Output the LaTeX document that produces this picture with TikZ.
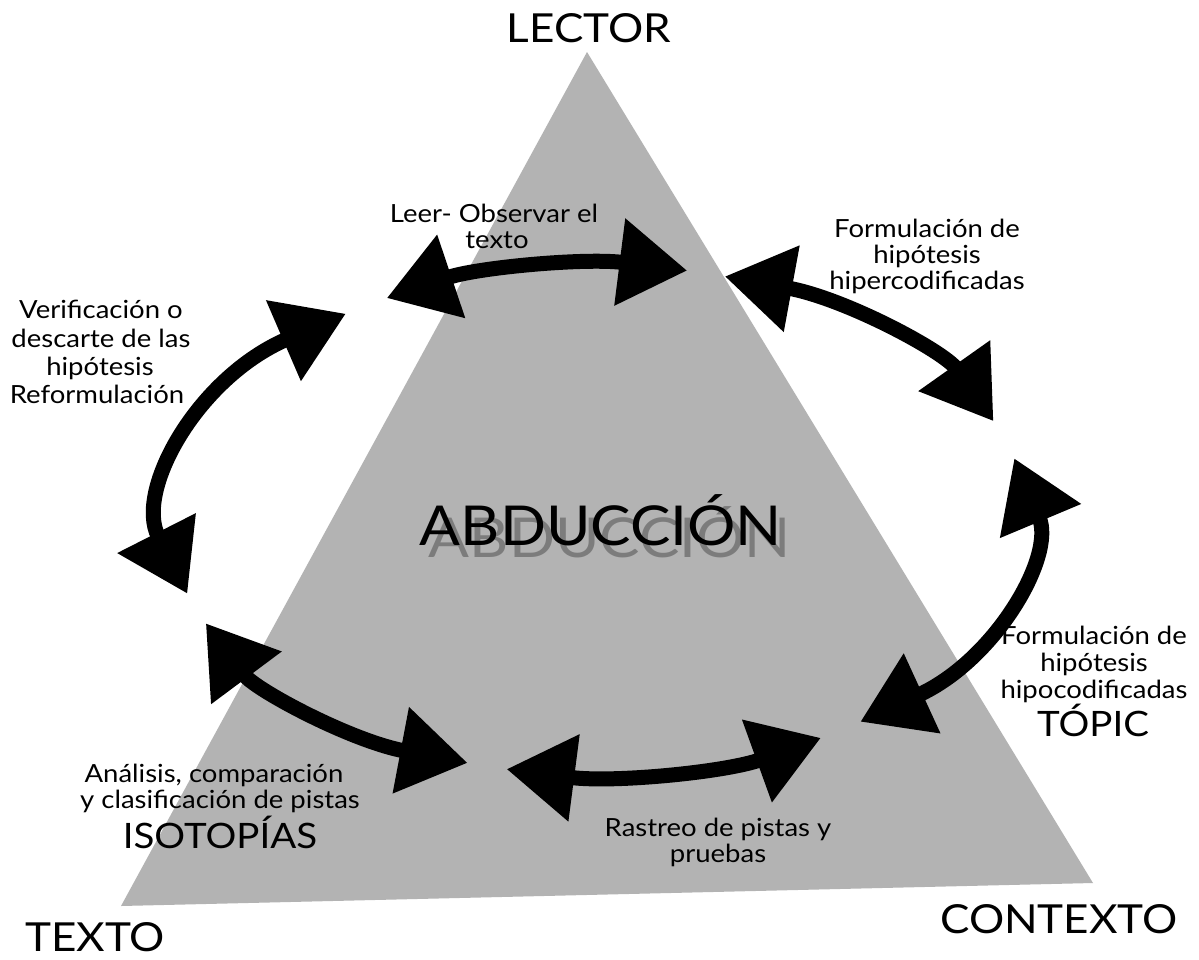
\documentclass[tikz,border=0pt]{standalone}
\usepackage{fontspec}
\setmainfont{Lato}[FakeStretch=1.1]
\usetikzlibrary{arrows.meta,calc}
\definecolor{trigray}{RGB}{179,179,179}
\tikzset{
  bigarrow/.style={line width=15pt, {Triangle[length=68pt,width=84pt]}-{Triangle[length=68pt,width=84pt]}},
  lbl/.style={anchor=base, inner sep=0pt, font=\fontsize{25}{28}\selectfont},
  cornerlbl/.style={anchor=base, inner sep=0pt, font=\fontsize{40}{44}\selectfont},
  midlbl/.style={anchor=base, inner sep=0pt, font=\fontsize{35}{38}\selectfont},
  titlelbl/.style={anchor=base, inner sep=0pt, font=\fontsize{55}{60}\selectfont},
}
\newcommand\ellarrow[2]{\draw[bigarrow] ($(C)+(#1:429pt and 255pt)$) arc[start angle=#1, end angle=#2, x radius=429pt, y radius=255pt];}
\begin{document}
\begin{tikzpicture}[x=1pt,y=-1pt]
\useasboundingbox (0,0) rectangle (1199,959);
\fill[white] (0,0) rectangle (1199,959);
% triangle
\coordinate (apex) at (587,52);
\coordinate (bl) at (121,906);
\coordinate (br) at (1093,883);
\fill[trigray] (apex) -- (bl) -- (br) -- cycle;
% corner labels
\node[cornerlbl] (lector) at (589,42) {LECTOR};
\node[cornerlbl] (texto) at (95,951) {TEXTO};
\node[cornerlbl] (contexto) at (1059,933) {CONTEXTO};
% title with soft shadow
\node[titlelbl, text=black, opacity=0.3] (shadow) at (610,557) {ABDUCCIÓN};
\node[titlelbl] (abd) at (601,545) {ABDUCCIÓN};
% cycle arrows
\coordinate (C) at (598,520);
\ellarrow{119.5}{78}
\ellarrow{72.8}{22.8}
\ellarrow{14}{-52.3}
\ellarrow{-58.7}{-102.3}
\ellarrow{-107.7}{-156.1}
\ellarrow{-163.2}{-234}
% step labels
\node[lbl] (leer1) at (494,222) {Leer- Observar el};
\node[lbl] (leer2) at (497,248) {texto};
\node[lbl] (hip1) at (927,237) {Formulación de};
\node[lbl] (hip2) at (927,263) {hipótesis};
\node[lbl] (hip3) at (927,289) {hipercodificadas};
\node[lbl] (ver1) at (101,318) {Verificación o};
\node[lbl] (ver2) at (101,347) {descarte de las};
\node[lbl] (ver3) at (100,375) {hipótesis};
\node[lbl] (ver4) at (97,403) {Reformulación};
\node[lbl] (hpo1) at (1094,644) {Formulación de};
\node[lbl] (hpo2) at (1094,671) {hipótesis};
\node[lbl] (hpo3) at (1094,698) {hipocodificadas};
\node[midlbl] (hpo4) at (1093,736) {TÓPIC};
\node[lbl] (ana1) at (214,782) {Análisis, comparación};
\node[lbl] (ana2) at (220,808) {y clasificación de pistas};
\node[midlbl] (ana3) at (220,848) {ISOTOPÍAS};
\node[lbl] (ras1) at (718,836) {Rastreo de pistas y};
\node[lbl] (ras2) at (718,862) {pruebas};
\end{tikzpicture}
\end{document}
